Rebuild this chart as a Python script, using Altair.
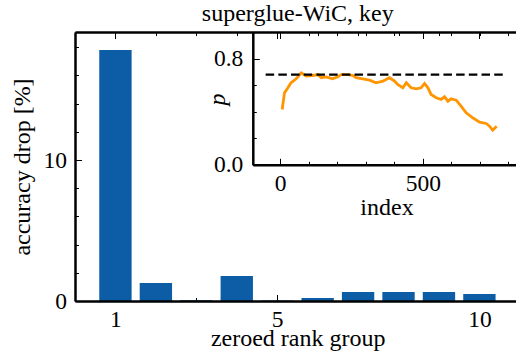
import altair as alt
import pandas as pd

# ---- data ----
ranks = [1, 2, 3, 4, 5, 6, 7, 8, 9, 10]
drops = [17.8, 1.28, 0.05, 1.77, 0.04, 0.21, 0.64, 0.64, 0.64, 0.50]

idx = [7, 15, 27, 38, 56, 74, 91, 114, 132, 144, 161, 184, 202, 214, 237, 255,
       266, 290, 313, 336, 360, 383, 401, 412, 430, 442, 459, 477, 494, 506,
       518, 529, 547, 564, 576, 588, 599, 617, 634, 652, 675, 699, 722, 734,
       745, 759]
pvals = [0.417, 0.543, 0.581, 0.619, 0.649, 0.694, 0.669, 0.674, 0.681, 0.657,
         0.664, 0.649, 0.664, 0.681, 0.681, 0.674, 0.657, 0.649, 0.639, 0.619,
         0.631, 0.657, 0.631, 0.606, 0.581, 0.619, 0.581, 0.573, 0.581, 0.614,
         0.581, 0.531, 0.506, 0.493, 0.513, 0.480, 0.498, 0.488, 0.442, 0.392,
         0.355, 0.322, 0.312, 0.291, 0.261, 0.291]
ref_x = [-51, 792]
ref_p = [0.681, 0.681]

x_major = [1, 5, 10]
x_minor = [0, 1, 2, 3, 4, 5, 6, 7, 8, 9, 10]
y_major = [0, 10]
y_minor = [0, 2, 4, 6, 8, 10, 12, 14, 16, 18]
ix_major = [0, 500]
ix_minor = [0, 100, 200, 300, 400, 500, 600, 700, 800]
iy_major = [0.0, 0.8]
iy_minor = [0.0, 0.2, 0.4, 0.6, 0.8]

# ---- style ----
FONT = "Liberation Serif"
BLUE = "#0C5DA5"
ORANGE = "#FF9500"
W, H = 441, 269
LBL = 23.5
TTL = 24
MAJ, MIN = 6.5, 3.5
SPW = 2.5

XS = alt.Scale(domain=[0, 10.905], nice=False, zero=False)
YS = alt.Scale(domain=[0, 19.08], nice=False, zero=False)
I_LEFT, I_BOT = 177.8, 132.8
IXS = alt.Scale(domain=[-96, 826], range=[I_LEFT, 440.8], nice=False, zero=False)
IYS = alt.Scale(domain=[0, 1], range=[I_BOT, 0.3], nice=False, zero=False)
I_BOFF = I_BOT - H     # offset of inset bottom axis
I_LOFF = -I_LEFT       # offset of inset left axis


def label_axis(orient, values, fmt, pad, offset, title=None, tx=None, ty=None,
               italic=False, domain=True):
    kw = dict(orient=orient, values=values, format=fmt, offset=offset,
              ticks=False, tickSize=0, domain=domain, domainColor="black",
              domainWidth=SPW, grid=False, labels=True, labelFont=FONT,
              labelFontSize=LBL, labelColor="black", labelPadding=pad,
              labelFlush=False, labelOverlap=False, zindex=1)
    if orient in ("bottom", "top"):
        kw["labelBaseline"] = "alphabetic"
    if title is not None:
        kw.update(title=title, titleFont=FONT, titleFontSize=TTL,
                  titleFontWeight="normal", titleColor="black",
                  titleX=tx, titleY=ty, titleAlign="center",
                  titleBaseline="alphabetic")
        if italic:
            kw["titleFontStyle"] = "italic"
        if orient in ("left", "right"):
            kw["titleAngle"] = 270
    else:
        kw["title"] = None
    return alt.Axis(**kw)


def tick_axis(orient, values, size, base_offset):
    return alt.Axis(orient=orient, values=values, ticks=True, tickSize=size,
                    tickWidth=1, tickColor="black", offset=base_offset - size,
                    domain=False, labels=False, grid=False, title=None)


def domain_axis(orient, base_offset=0):
    return alt.Axis(orient=orient, ticks=False, tickSize=0, labels=False,
                    domain=True, domainColor="black", domainWidth=SPW,
                    grid=False, title=None, offset=base_offset, zindex=1)


bars_df = pd.DataFrame({"rank": ranks, "drop": drops})
line_df = pd.DataFrame({"index": idx, "p": pvals})
ref_df = pd.DataFrame({"index": ref_x, "p": ref_p})

# ---- main panel ----
bars = alt.Chart(bars_df).transform_calculate(
    x0="datum.rank - 0.4", x1="datum.rank + 0.4"
).mark_bar(color=BLUE).encode(
    x=alt.X("x0:Q", scale=XS,
            axis=label_axis("bottom", x_major, "d", 25, 0,
                            "zeroed rank group", 222.7, 44)),
    x2="x1:Q",
    y=alt.Y("drop:Q", scale=YS,
            axis=label_axis("left", y_major, "d", 8.5, 0,
                            "accuracy drop [%]", -45.5, 134.5)),
    y2=alt.datum(0),
)


def ghost(xaxis, yaxis):
    return alt.Chart(bars_df).mark_point(opacity=0).encode(
        x=alt.X("rank:Q", scale=XS, axis=xaxis),
        y=alt.Y("drop:Q", scale=YS, axis=yaxis),
    )


m2 = ghost(tick_axis("bottom", x_major, MAJ, 0), tick_axis("left", y_major, MAJ, 0))
m3 = ghost(tick_axis("bottom", x_minor, MIN, 0), tick_axis("left", y_minor, MIN, 0))
m4 = ghost(domain_axis("top"), None)
m5 = ghost(tick_axis("top", x_major, MAJ, 0), None)
m6 = ghost(tick_axis("top", x_minor, MIN, 0), None)

# ---- inset ----
line = alt.Chart(line_df).mark_line(color=ORANGE, strokeWidth=2.8).encode(
    x=alt.X("index:Q", scale=IXS,
            axis=label_axis("bottom", ix_major, "d", 25.2, I_BOFF,
                            "index", 311.5, 49.7)),
    y=alt.Y("p:Q", scale=IYS,
            axis=label_axis("left", iy_major, ".1f", 10, I_LOFF,
                            "p", -28, 67, italic=True)),
)

ref = alt.Chart(ref_df).mark_line(color="black", strokeWidth=2.2,
                                  strokeDash=[8.5, 4.2]).encode(
    x=alt.X("index:Q", scale=IXS, axis=tick_axis("bottom", ix_major, MAJ, I_BOFF)),
    y=alt.Y("p:Q", scale=IYS, axis=tick_axis("left", iy_major, MAJ, I_LOFF)),
)


def ighost(xaxis, yaxis):
    return alt.Chart(ref_df).mark_point(opacity=0).encode(
        x=alt.X("index:Q", scale=IXS, axis=xaxis),
        y=alt.Y("p:Q", scale=IYS, axis=yaxis),
    )


i3 = ighost(tick_axis("bottom", ix_minor, MIN, I_BOFF),
            tick_axis("left", iy_minor, MIN, I_LOFF))
i4 = ighost(tick_axis("top", ix_major, MAJ, 0), None)
i5 = ighost(tick_axis("top", ix_minor, MIN, 0), None)

chart = alt.layer(
    bars, m2, m3, m4, m5, m6, line, ref, i3, i4, i5
).resolve_scale(
    x="independent", y="independent"
).resolve_axis(
    x="independent", y="independent"
).properties(
    width=W, height=H,
    autosize=alt.AutoSizeParams(type="none"),
    padding={"left": 75, "top": 32, "right": 0, "bottom": 55},
    title=alt.TitleParams("superglue-WiC, key", font=FONT, fontSize=TTL,
                          fontWeight="normal", color="black", anchor="middle",
                          frame="group", baseline="alphabetic", offset=10,
                          dx=2.3, dy=23),
).configure_view(stroke=None).configure(background="white")

chart.save("out.html", embed_options={"renderer": "svg", "actions": False})
